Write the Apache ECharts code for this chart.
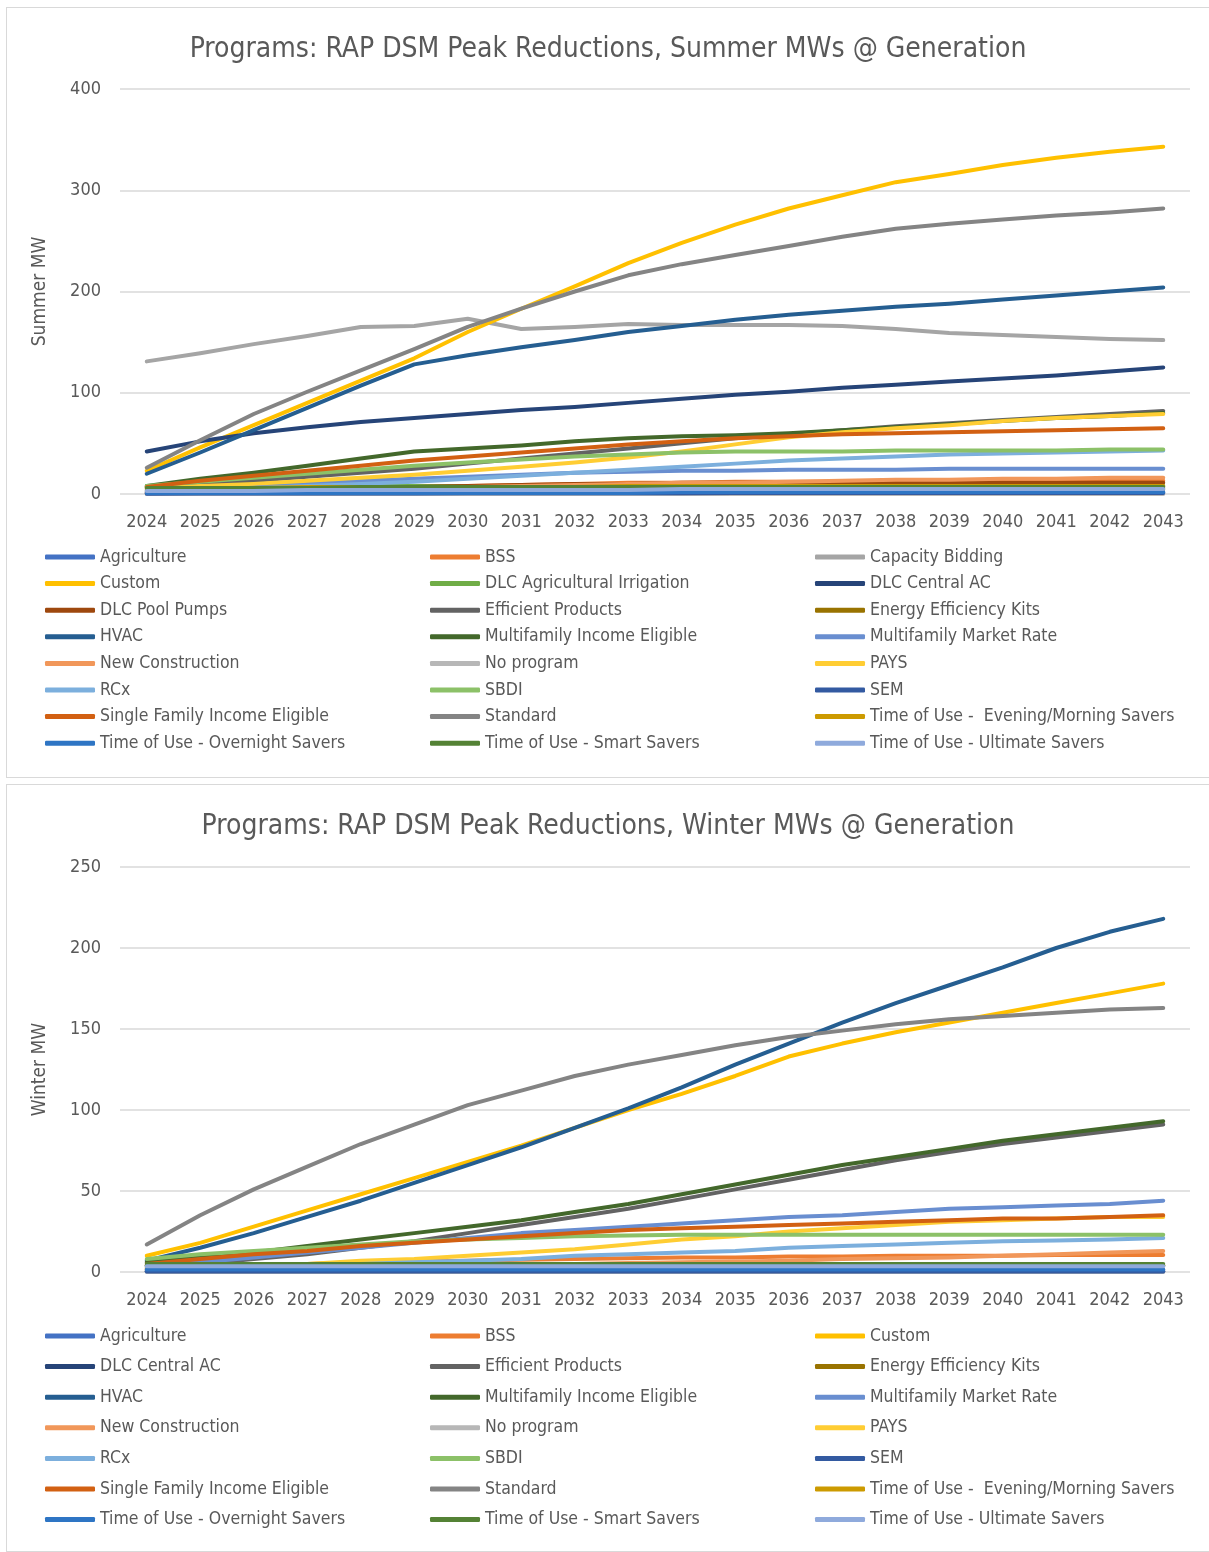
<!DOCTYPE html>
<html>
<head>
<meta charset="utf-8">
<script src="https://cdn.jsdelivr.net/npm/echarts@6/dist/echarts.min.js"></script>
<style>
  html, body { margin: 0; padding: 0; background: #fff; }
  body { width: 1209px; height: 1552px; position: relative; overflow: hidden; }
  .panel { position: absolute; left: 6px; width: 1203px; border: 1px solid #d9d9d9; border-right: none; box-sizing: border-box; }
  #summer { top: 7px; height: 771px; }
  #winter { top: 784px; height: 768px; }
</style>
</head>
<body>
<div id="summer" class="panel"></div>
<div id="winter" class="panel"></div>
<script>
const years = ['2024','2025','2026','2027','2028','2029','2030','2031','2032','2033','2034','2035','2036','2037','2038','2039','2040','2041','2042','2043'];

// Summer MW by program
const summerAgriculture = [0.5,0.6,0.7,0.8,0.9,1,1,1.1,1.1,1.2,1.2,1.3,1.3,1.3,1.4,1.4,1.4,1.5,1.5,1.5];
const summerBSS = [2,3,4,5,6,7,8,9,10,11,11,12,12,12,13,13,13,13,13,13];
const summerCapacityBidding = [131,139,148,156,165,166,173,163,165,168,167,167,167,166,163,159,157,155,153,152];
const summerCustom = [23,46,68,90,112,134,160,183,205,228,248,266,282,295,308,316,325,332,338,343];
const summerDLCAgIrrigation = [8,8,8,8,8,8,8,8,8,8,8,8,8,8,8,8,8,8,8,8];
const summerDLCCentralAC = [42,52,60,66,71,75,79,83,86,90,94,98,101,105,108,111,114,117,121,125];
const summerDLCPoolPumps = [1,2,4,5,6,7,8,9,10,10,11,11,11,11,11,11,11,11,11,11];
const summerEfficientProducts = [7,10,13,17,21,25,30,35,40,45,50,55,59,63,67,70,73,76,79,82];
const summerEEKits = [4,4.5,5,5,5,5,5,5,5,5,5,5,5,5,5,5,5,5,5,5];
const summerHVAC = [20,41,63,85,107,128,137,145,152,160,166,172,177,181,185,188,192,196,200,204];
const summerMFIncomeEligible = [8,15,21,28,35,42,45,48,52,55,57,58,60,63,66,69,72,75,77,80];
const summerMFMarketRate = [3,5,8,10,13,15,17,19,21,22,23,23,24,24,24,25,25,25,25,25];
const summerNewConstruction = [1,2,3,4,5,6,7,8,9,10,11,11,12,13,14,14,15,15,16,16];
const summerNoProgram = [0,0,0,0,0,0,0,0,0,0,0,0,0,0,0,0,0,0,0,0];
const summerPAYS = [6,8,10,13,16,19,23,27,31,36,42,49,56,61,65,68,72,75,77,79];
const summerRCx = [2,4,6,8,10,12,15,18,21,24,27,30,33,35,37,39,40,41,42,43];
const summerSBDI = [8,12,16,20,24,28,31,34,37,39,41,42,42,42,43,43,43,43,44,44];
const summerSEM = [0.3,0.4,0.5,0.5,0.6,0.6,0.7,0.7,0.8,0.8,0.8,0.9,0.9,0.9,1,1,1,1,1,1];
const summerSFIncomeEligible = [7,13,18,23,28,33,37,41,45,49,52,55,57,59,60,61,62,63,64,65];
const summerStandard = [26,53,79,101,122,143,165,183,200,216,227,236,245,254,262,267,271,275,278,282];
const summerTouEveningMorning = [6,6,6,7,7,7,7,7,7,8,8,8,8,8,8,8,8,8,8,8];
const summerTouOvernight = [1,1,1,1,1,1,1,1,1,1,2,2,2,2,2,2,2,2,2,2];
const summerTouSmart = [6,6,6,6,7,7,7,7,7,7,7,7,7,7,7,7,7,7,7,7];
const summerTouUltimate = [3,3,3,4,4,4,4,4,4,4,5,5,5,5,5,5,5,5,5,5];

// Winter MW by program
const winterAgriculture = [0.4,0.4,0.5,0.5,0.5,0.6,0.6,0.6,0.7,0.7,0.7,0.7,0.8,0.8,0.8,0.8,0.8,0.9,0.9,0.9];
const winterBSS = [2,3,4,5,6,6.5,7,7.5,8,8.5,9,9,9.5,9.5,10,10,10,10.5,10.5,10.5];
const winterCustom = [10,18,28,38,48,58,68,78,89,100,110,121,133,141,148,154,160,166,172,178];
const winterDLCCentralAC = [0.3,0.3,0.3,0.3,0.3,0.3,0.3,0.3,0.3,0.3,0.3,0.3,0.3,0.3,0.3,0.3,0.3,0.3,0.3,0.3];
const winterEfficientProducts = [3,5,8,11,15,19,24,29,34,39,45,51,57,63,69,74,79,83,87,91];
const winterEEKits = [4,4,4,4,4,4,4,4,4,4,4,4,4,4,4,4,4,4,4,4];
const winterHVAC = [7,15,24,34,44,55,66,77,89,101,114,128,141,154,166,177,188,200,210,218];
const winterMFIncomeEligible = [6,9,12,16,20,24,28,32,37,42,48,54,60,66,71,76,81,85,89,93];
const winterMFMarketRate = [4,6,9,12,15,18,21,24,26,28,30,32,34,35,37,39,40,41,42,44];
const winterNewConstruction = [1,1.5,2,2.5,3,3.5,4,4.5,5,5.5,6,6.5,7,8,8.5,9,10,11,12,13];
const winterNoProgram = [0,0,0,0,0,0,0,0,0,0,0,0,0,0,0,0,0,0,0,0];
const winterPAYS = [2,3,4,5,7,8,10,12,14,17,20,22,25,27,29,31,32,33,34,34];
const winterRCx = [1,2,3,4,5,6,7,8,10,11,12,13,15,16,17,18,19,19.5,20,21];
const winterSBDI = [8,11,13,15,17,19,20,21,22,22.5,23,23,23,23,23,23,23,23,23,23];
const winterSEM = [0.3,0.3,0.3,0.3,0.3,0.3,0.3,0.3,0.3,0.3,0.3,0.3,0.3,0.3,0.3,0.3,0.3,0.3,0.3,0.3];
const winterSFIncomeEligible = [5,8,11,13,16,18,20,22,24,26,27,28,29,30,31,32,33,33,34,35];
const winterStandard = [17,35,51,65,79,91,103,112,121,128,134,140,145,149,153,156,158,160,162,163];
const winterTouEveningMorning = [4,4,4,4,4,4,4,4,4,4,4,4,4,4,4,4,4,4,4,4];
const winterTouOvernight = [1.5,1.5,1.5,1.5,1.5,1.5,1.5,1.5,1.5,1.5,1.5,1.5,1.5,1.5,1.5,1.5,1.5,1.5,1.5,1.5];
const winterTouSmart = [5,5,5,5,5,5,5,5,5,5,5,5,5,5,5,5,5,5,5,5];
const winterTouUltimate = [3.5,3.5,3.5,3.5,3.5,3.5,3.5,3.5,3.5,3.5,3.5,3.5,3.5,3.5,3.5,3.5,3.5,3.5,3.5,3.5];

const colors = {
  'Agriculture': '#4472c4',
  'BSS': '#ed7d31',
  'Capacity Bidding': '#a5a5a5',
  'Custom': '#ffc000',
  'DLC Agricultural Irrigation': '#70ad47',
  'DLC Central AC': '#264478',
  'DLC Pool Pumps': '#9e480e',
  'Efficient Products': '#636363',
  'Energy Efficiency Kits': '#997300',
  'HVAC': '#255e91',
  'Multifamily Income Eligible': '#43682b',
  'Multifamily Market Rate': '#698ed0',
  'New Construction': '#f1975a',
  'No program': '#b7b7b7',
  'PAYS': '#ffcd33',
  'RCx': '#7cafdd',
  'SBDI': '#8cc168',
  'SEM': '#335aa1',
  'Single Family Income Eligible': '#d26012',
  'Standard': '#848484',
  'Time of Use -  Evening/Morning Savers': '#cc9a00',
  'Time of Use - Overnight Savers': '#2e75c4',
  'Time of Use - Smart Savers': '#548235',
  'Time of Use - Ultimate Savers': '#8faadc'
};

const summerSeries = [
  ['Agriculture', summerAgriculture],
  ['BSS', summerBSS],
  ['Capacity Bidding', summerCapacityBidding],
  ['Custom', summerCustom],
  ['DLC Agricultural Irrigation', summerDLCAgIrrigation],
  ['DLC Central AC', summerDLCCentralAC],
  ['DLC Pool Pumps', summerDLCPoolPumps],
  ['Efficient Products', summerEfficientProducts],
  ['Energy Efficiency Kits', summerEEKits],
  ['HVAC', summerHVAC],
  ['Multifamily Income Eligible', summerMFIncomeEligible],
  ['Multifamily Market Rate', summerMFMarketRate],
  ['New Construction', summerNewConstruction],
  ['No program', summerNoProgram],
  ['PAYS', summerPAYS],
  ['RCx', summerRCx],
  ['SBDI', summerSBDI],
  ['SEM', summerSEM],
  ['Single Family Income Eligible', summerSFIncomeEligible],
  ['Standard', summerStandard],
  ['Time of Use -  Evening/Morning Savers', summerTouEveningMorning],
  ['Time of Use - Overnight Savers', summerTouOvernight],
  ['Time of Use - Smart Savers', summerTouSmart],
  ['Time of Use - Ultimate Savers', summerTouUltimate]
];

const winterSeries = [
  ['Agriculture', winterAgriculture],
  ['BSS', winterBSS],
  ['Custom', winterCustom],
  ['DLC Central AC', winterDLCCentralAC],
  ['Efficient Products', winterEfficientProducts],
  ['Energy Efficiency Kits', winterEEKits],
  ['HVAC', winterHVAC],
  ['Multifamily Income Eligible', winterMFIncomeEligible],
  ['Multifamily Market Rate', winterMFMarketRate],
  ['New Construction', winterNewConstruction],
  ['No program', winterNoProgram],
  ['PAYS', winterPAYS],
  ['RCx', winterRCx],
  ['SBDI', winterSBDI],
  ['SEM', winterSEM],
  ['Single Family Income Eligible', winterSFIncomeEligible],
  ['Standard', winterStandard],
  ['Time of Use -  Evening/Morning Savers', winterTouEveningMorning],
  ['Time of Use - Overnight Savers', winterTouOvernight],
  ['Time of Use - Smart Savers', winterTouSmart],
  ['Time of Use - Ultimate Savers', winterTouUltimate]
];

const font = '"DejaVu Sans Condensed", "Liberation Sans Narrow", sans-serif';

function buildOption(title, yName, yMax, yStep, list, gridTop, legendTop, rowGap) {
  const names = list.map(s => s[0]);
  const legends = [0, 1, 2].map(col => ({
    orient: 'vertical',
    left: 33 + col * 385,
    top: legendTop,
    itemWidth: 50,
    itemHeight: 5,
    itemGap: rowGap,
    icon: 'roundRect',
    textStyle: { color: '#595959', fontSize: 17.5, fontFamily: font },
    data: names.filter((n, i) => i % 3 === col)
  }));
  return {
    animation: false,
    title: {
      text: title,
      left: 'center',
      top: 23,
      textStyle: { color: '#595959', fontSize: 28, fontWeight: 'normal', fontFamily: font }
    },
    legend: legends,
    grid: { left: 113, width: 1070, top: gridTop, height: 405 },
    xAxis: {
      type: 'category',
      data: years,
      boundaryGap: true,
      axisLine: { show: false },
      axisTick: { show: false },
      axisLabel: { color: '#595959', fontSize: 18, fontFamily: font, margin: 19, interval: 0 }
    },
    yAxis: {
      type: 'value',
      min: 0,
      max: yMax,
      interval: yStep,
      name: yName,
      nameLocation: 'middle',
      nameGap: 70,
      nameTextStyle: { color: '#595959', fontSize: 19, fontFamily: font },
      axisLabel: { color: '#595959', fontSize: 18, fontFamily: font, margin: 19 },
      splitLine: { lineStyle: { color: '#d9d9d9', width: 1.5 } }
    },
    series: list.map(s => ({
      name: s[0],
      type: 'line',
      data: s[1],
      color: colors[s[0]],
      symbol: 'none',
      lineStyle: { width: 4, cap: 'round', join: 'round' }
    }))
  };
}

const summerChart = echarts.init(document.getElementById('summer'));
summerChart.setOption(buildOption('Programs: RAP DSM Peak Reductions, Summer MWs @ Generation', 'Summer MW', 400, 100, summerSeries, 81, 535, 8.6));

const winterChart = echarts.init(document.getElementById('winter'));
winterChart.setOption(buildOption('Programs: RAP DSM Peak Reductions, Winter MWs @ Generation', 'Winter MW', 250, 50, winterSeries, 82, 537, 12.6));
</script>
</body>
</html>
